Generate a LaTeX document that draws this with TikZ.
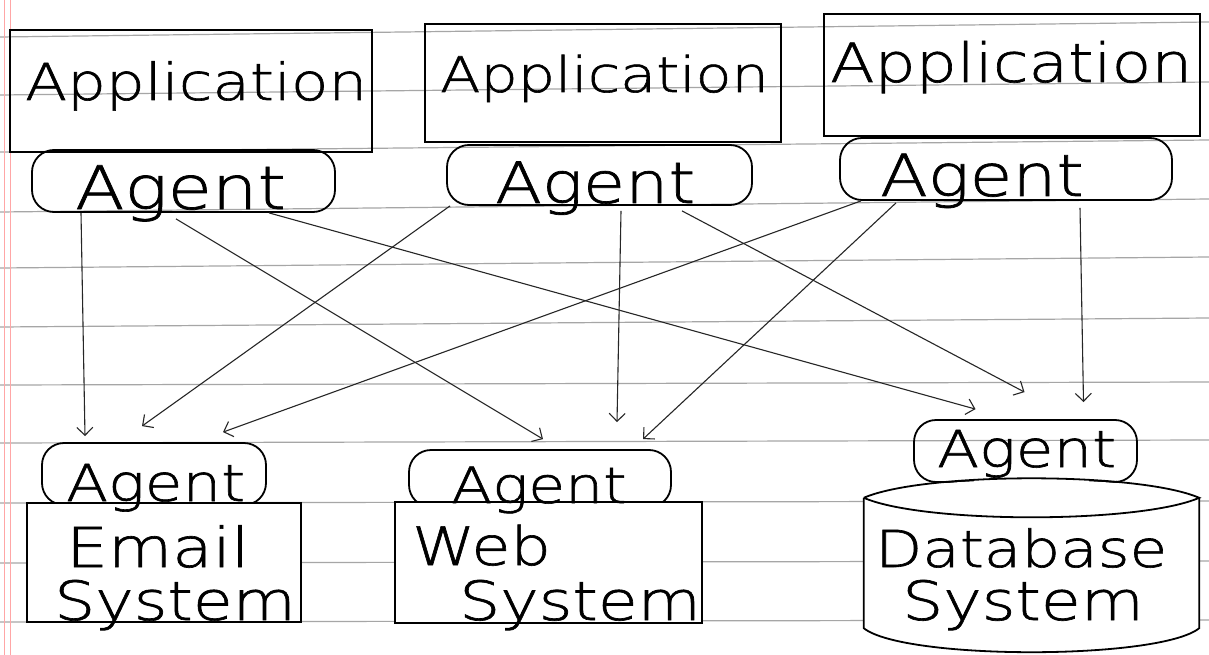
\documentclass[tikz,border=0pt]{standalone}
\usepackage{fontspec}
\newfontfamily\hand[FakeStretch=1.2,FakeBold=1.2]{DejaVu Sans ExtraLight}
\usetikzlibrary{arrows.meta,calc}
\begin{document}
\begin{tikzpicture}[x=1pt,y=-1pt,
  rule/.style={draw=black!35, line width=1.2pt},
  margin/.style={draw=red!35, line width=1pt},
  boxw/.style={draw, line width=1.8pt, inner sep=0pt},
  agentbox/.style={draw, line width=1.8pt, inner sep=0pt, rounded corners=22pt},
  txt/.style={font=\hand\fontsize{#1}{#1}\selectfont, inner sep=0pt, anchor=base west},
  link/.style={-{Straight Barb[length=8pt,width=16pt]}, line width=1.1pt, draw=black!85}]
\useasboundingbox (0,0) rectangle (1209,655);
\fill[white] (0,0) rectangle (1209,655);
% ruled paper
\foreach \ya/\yb in {37/22,95/82,152/140,212/199,268/257,327/318,385/382,443/440,503/501,563/561,622/620}
  \draw[rule] (0,\ya) -- (1209,\yb);
\draw[margin] (4,0) -- (4,655);
\draw[margin] (10,0) -- (10,655);

% application boxes
\node[boxw, minimum width=362pt, minimum height=122pt] (app1) at (191,91) {};
\node[boxw, minimum width=356pt, minimum height=118pt] (app2) at (603,83) {};
\node[boxw, minimum width=376pt, minimum height=122pt] (app3) at (1012,75) {};
\node[txt=51] (t1) at (25,100) {Application};
\node[txt=49] (t2) at (440,92) {Application};
\node[txt=54] (t3) at (830,82) {Application};

% top agents
\node[agentbox, minimum width=303pt, minimum height=62pt] (ag1) at (183.5,181) {};
\node[agentbox, minimum width=305pt, minimum height=60pt] (ag2) at (599.5,175) {};
\node[agentbox, minimum width=332pt, minimum height=62pt] (ag3) at (1006,169) {};
\node[txt=60] (ta1) at (75,209) {Agent};
\node[txt=57] (ta2) at (495,203) {Agent};
\node[txt=58] (ta3) at (880,196) {Agent};

% bottom systems
\node[agentbox, minimum width=224pt, minimum height=62pt] (ea) at (154,474) {};
\node[boxw, fill=white, minimum width=274pt, minimum height=119pt] (eb) at (164,562.5) {};
\node[txt=51] (tea) at (66,501) {Agent};
\node[txt=55] (te1) at (66,567) {Email};
\node[txt=54] (te2) at (54,620) {System};

\node[agentbox, minimum width=262pt, minimum height=57pt] (wa) at (540,478.5) {};
\node[boxw, fill=white, minimum width=307pt, minimum height=121pt] (wb) at (548.5,562.5) {};
\node[txt=50] (twa) at (451,503) {Agent};
\node[txt=53] (tw1) at (412,565) {Web};
\node[txt=54] (tw2) at (459,620) {System};

\node[agentbox, minimum width=223pt, minimum height=62pt] (da) at (1025.5,451) {};
\node[inner sep=0pt, minimum width=335pt, minimum height=130pt] (db) at (1031.5,563) {};
\fill[white] (db.north west) .. controls ($(db.north west)+(60,-24)$) and ($(db.north east)+(-60,-24)$) .. (db.north east)
   -- (db.south east) .. controls ($(db.south east)+(-40,32)$) and ($(db.south west)+(40,32)$) .. (db.south west) -- cycle;
\draw[line width=1.8pt] (db.north west) .. controls ($(db.north west)+(60,-26)$) and ($(db.north east)+(-60,-26)$) .. (db.north east)
   .. controls ($(db.north east)+(-60,26)$) and ($(db.north west)+(60,26)$) .. (db.north west);
\draw[line width=1.8pt] (db.north west) -- (db.south west)
   .. controls ($(db.south west)+(40,32)$) and ($(db.south east)+(-40,32)$) .. (db.south east) -- (db.north east);
\node[txt=51] (tda) at (937,467) {Agent};
\node[txt=51] (td1) at (875,567) {Database};
\node[txt=54] (td2) at (902,620) {System};

% connectors
\draw[link] ([xshift=-102.5pt]ag1.south) -- ([xshift=-69pt,yshift=6pt]ea.north);
\draw[link] ([xshift=-7.5pt,yshift=-6pt]ag1.south) -- ([xshift=3pt,yshift=10pt]wa.north);
\draw[link] ([xshift=85.5pt]ag1.south) -- ([xshift=-50pt,yshift=10pt]da.north);
\draw[link] ([xshift=-149.5pt]ag2.south) -- ([xshift=-12pt,yshift=16pt]ea.north);
\draw[link] ([xshift=21.5pt,yshift=-5pt]ag2.south) -- ([xshift=77pt,yshift=27pt]wa.north);
\draw[link] ([xshift=82.5pt,yshift=-5pt]ag2.south) -- ([xshift=-1pt,yshift=27pt]da.north);
\draw[link] ([xshift=-145pt]ag3.south) -- ([xshift=69pt,yshift=10pt]ea.north);
\draw[link] ([xshift=-110pt,yshift=-2pt]ag3.south) -- ([xshift=103pt,yshift=10pt]wa.north);
\draw[link] ([xshift=74pt,yshift=-7pt]ag3.south) -- ([xshift=58pt,yshift=17pt]da.north);
\end{tikzpicture}
\end{document}
